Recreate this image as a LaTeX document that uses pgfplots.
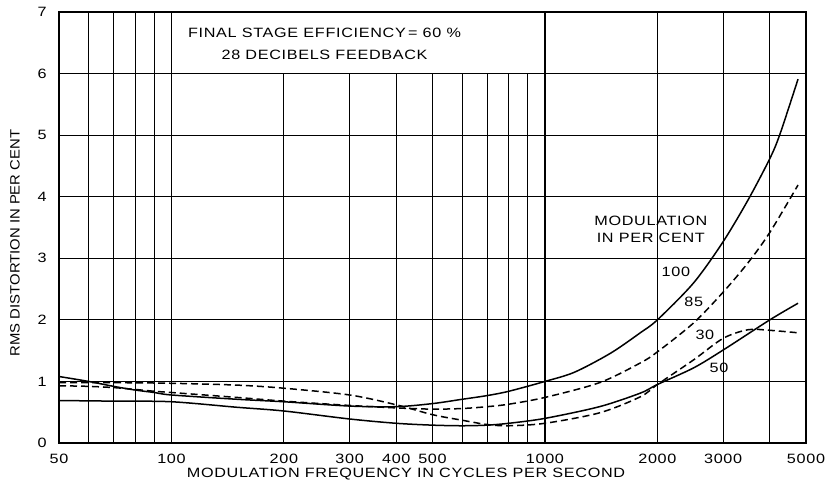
\documentclass[border=0pt]{standalone}
\usepackage{fontspec}
\setmainfont{Liberation Sans}[FakeStretch=1.2, LetterSpace=5]
\newfontfamily\ylfont{Liberation Sans}[FakeStretch=1.1, LetterSpace=0]
\usepackage{pgfplots}
\pgfplotsset{compat=1.18}
\begin{document}
\begin{tikzpicture}[font=\fontsize{13.5}{15}\selectfont]
\path[use as bounding box] (-59pt,-45pt) rectangle (773pt,443pt);
\begin{axis}[
  scale only axis, width=747pt, height=431pt,
  at={(0pt,0pt)}, anchor=south west,
  xmode=log, xmin=50, xmax=5000, ymin=0, ymax=7,
  xtick={50,100,200,300,400,500,1000,2000,3000,5000},
  xticklabels={50,100,200,300,400,500,1000,2000,3000,5000},
  minor xtick={60,70,80,90,600,700,800,900,4000},
  ytick={0,1,2,3,4,5,6,7},
  grid=both,
  major grid style={black, line width=1.1pt},
  minor grid style={black, line width=1.0pt},
  major tick length=0pt, minor tick length=0pt,
  axis line style={black, line width=1.6pt},
  /pgf/number format/assume math mode=true,
  xticklabel style={anchor=base, yshift=-20pt},
  yticklabel style={anchor=center, xshift=-17pt},
  xlabel={MODULATION FREQUENCY IN CYCLES PER SECOND},
  ylabel={\ylfont RMS DISTORTION IN PER CENT},
  xlabel style={at={(axis description cs:0.4645,0)}, anchor=center, yshift=-31pt},
  ylabel style={at={(axis description cs:0,0.464)}, anchor=center, yshift=44pt},
]
% title box
\fill[white] (axis cs:100,6) rectangle (axis cs:1000,7);
\draw[line width=1.1pt] (axis cs:100,6) rectangle (axis cs:1000,7);
\node[align=center, font=\fontsize{13.5}{22}\selectfont] at (axis cs:257,6.49)
  {FINAL STAGE EFFICIENCY\,= 60 \%\\28 DECIBELS FEEDBACK};
\node[align=center, font=\fontsize{13.5}{17}\selectfont] at (axis cs:1921,3.466)
  {MODULATION\\IN PER CENT};
\node at (axis cs:2241,2.78) {100};
\node at (axis cs:2504,2.29) {85};
\node at (axis cs:2680,1.75) {30};
\node at (axis cs:2923,1.22) {50};

% 100 per cent (solid)
\addplot[black, line width=1.5pt, smooth, tension=0.5] coordinates {
(50,1.08) (60,1.00) (70,0.92) (80,0.86) (90,0.82) (100,0.78) (150,0.71)
(200,0.67) (300,0.60) (400,0.59) (500,0.64) (600,0.71) (700,0.77) (800,0.84)
(1000,1.00) (1200,1.15) (1500,1.46) (1800,1.79) (2000,2.00) (2500,2.60) (3000,3.27)
(3500,3.95) (4000,4.62) (4260,5.02) (4760,5.91)};
% 85 per cent (dashed)
\addplot[black, line width=1.5pt, smooth, tension=0.5, dash pattern=on 7pt off 4pt] coordinates {
(50,0.93) (60,0.92) (70,0.90) (80,0.87) (90,0.84) (100,0.82) (150,0.74)
(200,0.68) (300,0.61) (400,0.57) (500,0.55) (600,0.56) (700,0.59) (800,0.63)
(1000,0.74) (1400,0.98) (1800,1.30) (2000,1.48) (2500,1.95) (3000,2.45)
(3500,2.93) (4000,3.42) (4760,4.19)};
% 30 per cent (dashed)
\addplot[black, line width=1.5pt, smooth, tension=0.5, dash pattern=on 7pt off 4pt] coordinates {
(50,0.98) (70,0.98) (100,0.97) (150,0.94) (200,0.89) (300,0.78) (400,0.62)
(500,0.46) (600,0.37) (700,0.30) (800,0.28) (1000,0.32) (1400,0.49)
(1800,0.75) (2000,0.95) (2500,1.35) (3000,1.70) (3500,1.84) (4000,1.83)
(4760,1.79)};
% 50 per cent (solid)
\addplot[black, line width=1.5pt, smooth, tension=0.5] coordinates {
(50,0.69) (70,0.68) (100,0.67) (150,0.58) (200,0.52) (300,0.39) (400,0.32)
(500,0.29) (600,0.28) (700,0.29) (800,0.32) (1000,0.40) (1400,0.59)
(1800,0.81) (2000,0.95) (2500,1.22) (3000,1.51) (4000,2.00) (4760,2.27)};
\end{axis}
\end{tikzpicture}
\end{document}
